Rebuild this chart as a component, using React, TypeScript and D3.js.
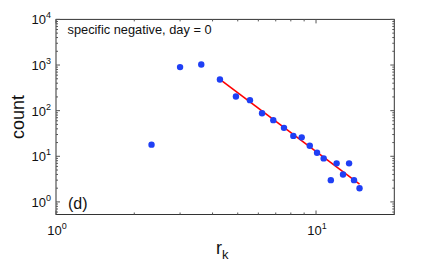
import React from 'react';
import * as d3 from 'd3'

// rank r_k and count for every dot
const rank = [2.33, 3.0, 3.62, 4.27, 4.92, 5.57, 6.2, 6.85, 7.53, 8.18, 8.81, 9.46, 10.09, 10.7, 11.4, 12.0, 12.7, 13.4, 14.0, 14.7]
const count = [18, 900, 1030, 480, 205, 170, 88, 62, 42, 28, 26, 17, 12, 9, 3, 7, 4, 7, 3, 2]
// power-law fit, end points
const fitRank = [4.27, 14.7]
const fitCount = [483, 2.45]
const xLabels = [1, 10]
const yLabels = [1, 10, 100, 1000, 10000]
const title = 'specific negative, day = 0'
const panel = '(d)'

interface IProps {}
interface IState {}
let chartRef: any = ''

class App extends React.Component<IProps, IState> {
  componentDidMount() {
    const W = 436
    const H = 262
    const margin = { top: 19.4, right: 41.7, bottom: 47.5, left: 56 }
    const font = '"Liberation Sans", Arial, Helvetica, sans-serif'
    const svg = d3.select(chartRef).attr('width', W).attr('height', H)
    svg.selectAll('*').remove()

    const x = d3.scaleLog().domain([1, 20]).range([margin.left, W - margin.right])
    const y = d3.scaleLog().domain([0.53, 10000]).range([H - margin.bottom, margin.top])
    const [x0, x1] = x.range()
    const [y0, y1] = y.range()
    const isMajor = (v: number) => Math.abs(Math.log10(v) - Math.round(Math.log10(v))) < 1e-6

    //frame
    svg.append('rect')
      .attr('x', x0).attr('y', y1)
      .attr('width', x1 - x0).attr('height', y0 - y1)
      .attr('fill', 'none').attr('stroke', '#333').attr('stroke-width', 1)

    //ticks, pointing in, on every side
    const tickG = svg.append('g').attr('stroke', '#555').attr('stroke-width', 1)
    x.ticks().forEach(v => {
      const len = isMajor(v) ? 4 : 2
      const px = x(v)
      tickG.append('line').attr('x1', px).attr('x2', px).attr('y1', y0).attr('y2', y0 - len)
      tickG.append('line').attr('x1', px).attr('x2', px).attr('y1', y1).attr('y2', y1 + len)
    })
    y.ticks().forEach(v => {
      const len = isMajor(v) ? 4 : 2
      const py = y(v)
      tickG.append('line').attr('x1', x0).attr('x2', x0 + len).attr('y1', py).attr('y2', py)
      tickG.append('line').attr('x1', x1).attr('x2', x1 - len).attr('y1', py).attr('y2', py)
    })

    //tick labels 10^n
    const power = (g: any, v: number) => {
      g.append('tspan').text('10')
      g.append('tspan').attr('dy', -6).attr('font-size', 9).text(String(Math.round(Math.log10(v))))
    }
    xLabels.forEach(v => {
      const t = svg.append('text')
        .attr('x', x(v) + 1).attr('y', y0 + 20)
        .attr('text-anchor', 'middle')
        .attr('font-family', font).attr('font-size', 13).attr('fill', '#111')
      power(t, v)
    })
    yLabels.forEach(v => {
      const t = svg.append('text')
        .attr('x', x0 - 5).attr('y', y(v) + 5)
        .attr('text-anchor', 'end')
        .attr('font-family', font).attr('font-size', 13).attr('fill', '#111')
      power(t, v)
    })

    //axis titles
    svg.append('text')
      .attr('transform', 'translate(24,' + (y0 + y1) / 2 + ') rotate(-90)')
      .attr('text-anchor', 'middle')
      .attr('font-family', font).attr('font-size', 18).attr('fill', '#111')
      .text('count')
    const xt = svg.append('text')
      .attr('x', 216).attr('y', 254)
      .attr('font-family', font).attr('font-size', 18).attr('fill', '#111')
    xt.append('tspan').text('r')
    xt.append('tspan').attr('dy', 5).attr('font-size', 13).text('k')

    //fit line
    const line = d3.line<number>()
      .x((d, i) => x(fitRank[i]))
      .y(d => y(d))
    svg.append('path')
      .datum(fitCount)
      .attr('d', line)
      .attr('fill', 'none').attr('stroke', '#ff0000').attr('stroke-width', 1.6)

    //dots
    svg.append('g').selectAll('circle')
      .data(count)
      .enter()
      .append('circle')
      .attr('cx', (d, i) => x(rank[i]))
      .attr('cy', d => y(d))
      .attr('r', 3.2)
      .attr('fill', '#1f3ff5')

    //in-plot texts
    svg.append('text')
      .attr('x', 67.5).attr('y', 33.5)
      .attr('font-family', font).attr('font-size', 12.8).attr('fill', '#111')
      .text(title)
    svg.append('text')
      .attr('x', 68).attr('y', 209)
      .attr('font-family', font).attr('font-size', 16).attr('fill', '#111')
      .text(panel)
  }

  render() {
    return (
      <div style={{ position: 'absolute', left: 0, top: 0, width: 436, height: 262, background: '#fff' }}>
        <svg style={{ display: 'block' }} ref={r => (chartRef = r)} />
      </div>
    );
  }
}

export default App;
